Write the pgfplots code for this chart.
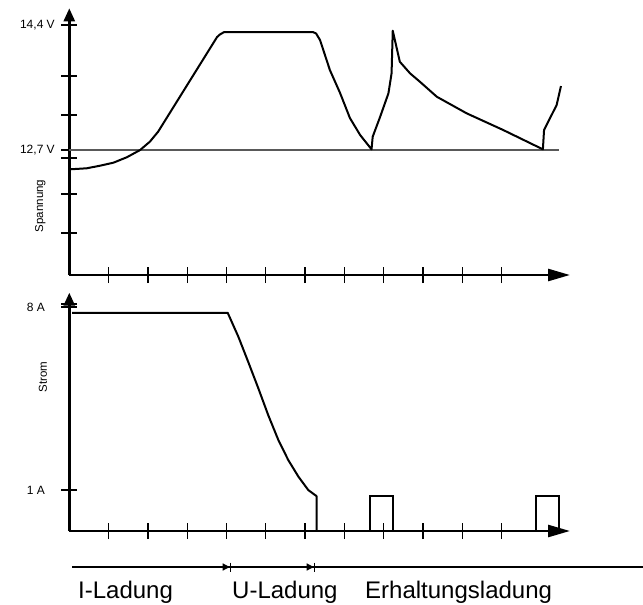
\documentclass[border=0pt]{standalone}
\usepackage{fontspec}
\setmainfont{Liberation Sans}
\usepackage{pgfplots}
\pgfplotsset{compat=1.18}
\usetikzlibrary{arrows.meta}
\begin{document}
\begin{tikzpicture}
\path[use as bounding box] (0pt,-605pt) rectangle (643pt,0pt);
\pgfplotsset{
  myaxis/.style={
    scale only axis, width=500.7pt, xmin=0, xmax=12.74,
    enlargelimits=false,
    axis lines=left,
    x axis line style={line width=2.6pt, -{Triangle[length=22pt,width=12pt]}},
    y axis line style={line width=2.6pt, -{Triangle[length=13pt,width=11pt]}},
    xtick={1,2,3,4,5,6,7,8,9,10,11}, xticklabels={},
    tick align=center, major tick length=16pt,
    tick style={line width=1.3pt, black},
    tick label style={font=\fontsize{12}{14}\selectfont},
    /pgf/number format/assume math mode=true,
    clip=false,
  }
}
\begin{axis}[myaxis, at={(69.3pt,-275pt)}, anchor=south west,
  height=266.7pt, ymin=11, ymax=14.629,
  ytick={11.571,12.102,12.592,12.7,13.177,13.707,14.4},
  yticklabels={,,,{12,7 V},,,{14,4 V}},
  yticklabel style={xshift=-3pt},
  ylabel={Spannung},
  ylabel style={at={(axis description cs:-0.058,0.259)}, anchor=center, font=\fontsize{11.5}{13}\selectfont}]
\addplot[line width=1.3pt, black!65] coordinates {(0,12.7) (12.46,12.7)};
\addplot[line width=2pt, black, line join=round] coordinates {
(0.018,12.438) (0.443,12.452) (0.781,12.487) (1.12,12.528) (1.46,12.601)
(1.80,12.70) (2.05,12.814) (2.26,12.950) (3.76,14.238) (3.83,14.272)
(3.94,14.306) (6.20,14.306) (6.28,14.286) (6.38,14.197) (6.63,13.789)
(6.89,13.476) (7.14,13.136) (7.40,12.905) (7.69,12.71)
(7.72,12.882) (7.91,13.154) (8.12,13.472) (8.20,13.744) (8.23,14.324)
(8.41,13.902) (8.67,13.744) (8.92,13.630) (9.35,13.426) (10.11,13.20)
(11.04,12.973) (12.05,12.71)
(12.08,12.973) (12.40,13.313) (12.51,13.571)};
\end{axis}
\begin{axis}[myaxis, at={(69.3pt,-531pt)}, anchor=south west,
  height=238.3pt, ymin=-0.568, ymax=8.548,
  ytick={1,8,8.12},
  yticklabels={{1 A},{8 A},},
  yticklabel style={xshift=-13pt},
  ylabel={Strom},
  ylabel style={at={(axis description cs:-0.0525,0.646)}, anchor=center, font=\fontsize{11.5}{13}\selectfont}]
\addplot[line width=2pt, black, line join=round] coordinates {
(0.07,7.78) (4.03,7.78) (4.30,6.87) (4.55,5.91) (4.81,4.89) (5.06,3.87)
(5.32,2.91) (5.57,2.15) (5.83,1.51) (6.08,1.00) (6.25,0.81) (6.29,0.77)
(6.29,-0.568)};
\addplot[line width=1.6pt, black] coordinates {(7.65,-0.568) (7.65,0.77) (8.24,0.77) (8.24,-0.568)};
\addplot[line width=1.6pt, black] coordinates {(11.88,-0.568) (11.88,0.77) (12.46,0.77) (12.46,-0.568)};
\end{axis}
\draw[line width=1.3pt, -{Triangle[length=7pt,width=7pt]Bar[width=9pt,line width=1.3pt]}] (72pt,-567pt) -- (231pt,-567pt);
\draw[line width=1.3pt, -{Triangle[length=7pt,width=7pt]Bar[width=9pt,line width=1.3pt]}] (231pt,-567pt) -- (315pt,-567pt);
\draw[line width=1.3pt] (315pt,-567pt) -- (643pt,-567pt);
\node[anchor=base west, inner sep=0pt, font=\fontsize{24}{28}\selectfont] at (78pt,-598pt) {I-Ladung};
\node[anchor=base west, inner sep=0pt, font=\fontsize{24}{28}\selectfont] at (232pt,-598pt) {U-Ladung};
\node[anchor=base west, inner sep=0pt, font=\fontsize{24}{28}\selectfont] at (365pt,-598pt) {Erhaltungsladung};
\end{tikzpicture}
\end{document}
